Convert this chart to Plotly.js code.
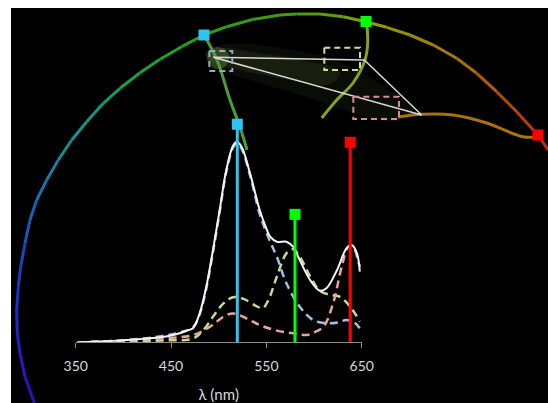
<!DOCTYPE html>
<html>
<head>
<meta charset="utf-8">
<script src="https://cdn.plot.ly/plotly-3.0.1.min.js"></script>
<style>html,body{margin:0;padding:0;background:#fff;}#chart{width:548px;height:403px;}</style>
</head>
<body>
<div id="chart"></div>
<script>
// ---- Spectrum (wavelength in nm, normalised intensity) ----
const whiteWl = [352, 370, 390, 403, 420, 438, 450, 459, 467, 473, 480, 487, 494, 501, 508, 515, 519, 524, 533, 543, 549, 554, 561, 571, 578, 585, 596, 606, 613, 624, 634, 639.5, 645, 648];
const whiteVal = [0.0, 0.005, 0.008, 0.012, 0.018, 0.026, 0.035, 0.046, 0.06, 0.071, 0.145, 0.278, 0.46, 0.66, 0.86, 0.98, 1.0, 0.975, 0.84, 0.66, 0.58, 0.527, 0.502, 0.502, 0.477, 0.41, 0.31, 0.258, 0.27, 0.36, 0.469, 0.486, 0.444, 0.353];
const blueWl = [352, 403, 438, 459, 473, 480, 487, 494, 501, 508, 515, 519, 524, 533, 543, 549, 556, 561, 571, 585, 599, 613, 625, 634, 642, 648];
const blueVal = [0.0, 0.012, 0.03, 0.05, 0.075, 0.14, 0.27, 0.45, 0.65, 0.85, 0.97, 0.99, 0.965, 0.83, 0.64, 0.56, 0.48, 0.427, 0.295, 0.178, 0.112, 0.096, 0.1, 0.112, 0.1, 0.071];
const greenWl = [352, 440, 473, 484, 494, 505, 515, 526, 540, 546, 552, 561, 571, 578, 585, 596, 606, 617, 627, 638, 648];
const greenVal = [0.0, 0.01, 0.02, 0.062, 0.128, 0.195, 0.225, 0.217, 0.18, 0.17, 0.21, 0.328, 0.444, 0.464, 0.427, 0.328, 0.258, 0.237, 0.228, 0.178, 0.104];
const redWl = [352, 438, 473, 491, 505, 515, 529, 543, 561, 578, 592, 600, 610, 620, 629, 636, 641, 646, 648];
const redVal = [0.0, 0.02, 0.037, 0.079, 0.128, 0.145, 0.12, 0.087, 0.059, 0.046, 0.037, 0.05, 0.079, 0.195, 0.377, 0.477, 0.477, 0.41, 0.377];

// emission lines: wavelength and height
const lineWl = [519.5, 580, 638];
const lineTop = [1.087, 0.638, 0.997];
const lineColors = ['#2ec5f3', '#00ff00', '#ff0000'];

const xTicks = [350, 450, 550, 650];

// ---- Chromaticity-style diagram (picture coordinates) ----
const arcX = [34.5, 33.3, 25, 20, 17.3, 16.7, 18.3, 20.7, 25, 30, 36.7, 46.7, 58.3, 71.7, 86.7, 103.3, 120, 140, 160, 181.7, 204, 226.7, 253.3, 280, 296.7, 320, 343.3, 365.7, 386.7, 410, 433.3, 456.7, 476.7, 496.7, 516.7, 533.3, 538.3, 548];
const arcY = [403, 400, 376.7, 353.3, 333.3, 310, 286.7, 266.7, 243.3, 220, 200, 180, 160, 140, 121.7, 103.3, 88.3, 72.7, 59.3, 46.7, 35, 26.7, 19.3, 15, 14, 14, 16.7, 21.7, 27.3, 35, 45, 58.3, 73.3, 91.7, 111.7, 130, 135, 150];
const arcColors = ['#2d12bc', '#2c14bc', '#2a18c0', '#2420c4', '#1f28c6', '#1c30c6', '#1b3ac2', '#1b46bc', '#1a56b6', '#1a62b0', '#1a6eaa', '#1a7ca0', '#188a96', '#16928a', '#149678', '#169a62', '#1a9c4c', '#1e9e38', '#24a026', '#2a9e18', '#309c12', '#369a10', '#3e9a10', '#489a10', '#529a10', '#649c10', '#789e10', '#889c10', '#928f10', '#9c8410', '#a47810', '#aa6a10', '#ae5a10', '#b24a10', '#b63c10', '#ba3010', '#bc2c10', '#c02010'];

const innerGreenX = [204, 217, 230, 240, 247];
const innerGreenY = [35, 60, 100, 127, 150];
const innerYellowX = [366.7, 367.7, 365, 353, 336.7, 321.7];
const innerYellowY = [23, 43, 60, 83, 100, 118];
const innerOrangeX = [398, 421.7, 453, 486.7, 523, 538];
const innerOrangeY = [117, 114.3, 115, 123, 136.7, 136.7];

const triX = [213.3, 290, 364.3, 421.7, 213.3];
const triY = [57.3, 59, 60, 115, 57.3];

const glowX = [205, 228, 280, 340, 385, 412, 395, 350, 300, 250, 215, 205];
const glowY = [52, 44, 48, 62, 88, 112, 122, 112, 95, 80, 68, 52];
const glowCoreX = [206, 222, 250, 300, 340, 330, 280, 240, 215, 206];
const glowCoreY = [54, 48, 52, 60, 72, 84, 78, 70, 64, 54];
const glowSpotX = [218];
const glowSpotY = [58];

const boxes = [
  {x: [209.3, 232.3], y: [51, 71], color: '#8fa9c9'},
  {x: [324.3, 360], y: [47.7, 70], color: '#cfdca2'},
  {x: [353.3, 399], y: [96.7, 119], color: '#d48e8e'}
];

const cornerX = [204, 366, 538];
const cornerY = [35, 21.5, 135];

const traces = [];
// glow
traces.push({x: glowX, y: glowY, xaxis: 'x', yaxis: 'y', mode: 'lines', fill: 'toself', line: {width: 0, shape: 'spline'}, fillcolor: 'rgba(100,125,55,0.10)', hoverinfo: 'skip'});
traces.push({x: glowCoreX, y: glowCoreY, xaxis: 'x', yaxis: 'y', mode: 'lines', fill: 'toself', line: {width: 0, shape: 'spline'}, fillcolor: 'rgba(130,160,75,0.12)', hoverinfo: 'skip'});
traces.push({x: glowSpotX, y: glowSpotY, xaxis: 'x', yaxis: 'y', mode: 'markers', marker: {size: 22, color: 'rgba(150,200,90,0.25)', line: {width: 0}}, hoverinfo: 'skip'});
// arc segments
for (let i = 0; i < arcX.length - 1; i++) {
  traces.push({x: [arcX[i], arcX[i + 1]], y: [arcY[i], arcY[i + 1]], xaxis: 'x', yaxis: 'y', mode: 'lines', line: {color: arcColors[i], width: 3}, hoverinfo: 'skip'});
}
traces.push({x: innerGreenX, y: innerGreenY, xaxis: 'x', yaxis: 'y', mode: 'lines', line: {color: '#4f9a3e', width: 3, shape: 'spline'}});
traces.push({x: innerYellowX, y: innerYellowY, xaxis: 'x', yaxis: 'y', mode: 'lines', line: {color: '#86a222', width: 3, shape: 'spline'}});
traces.push({x: innerOrangeX, y: innerOrangeY, xaxis: 'x', yaxis: 'y', mode: 'lines', line: {color: '#a8720e', width: 3, shape: 'spline'}});
traces.push({x: triX, y: triY, xaxis: 'x', yaxis: 'y', mode: 'lines', line: {color: '#d8d8d8', width: 1.5}});
boxes.forEach(b => {
  traces.push({x: [b.x[0], b.x[1], b.x[1], b.x[0], b.x[0]], y: [b.y[0], b.y[0], b.y[1], b.y[1], b.y[0]], xaxis: 'x', yaxis: 'y', mode: 'lines', line: {color: b.color, width: 2, dash: '6px,4px'}});
});
traces.push({x: cornerX, y: cornerY, xaxis: 'x', yaxis: 'y', mode: 'markers', marker: {symbol: 'square', size: 11, color: lineColors}});

// spectrum
traces.push({x: blueWl, y: blueVal, xaxis: 'x2', yaxis: 'y2', mode: 'lines', line: {color: '#9ec2e6', width: 2.5, dash: '8px,5px', shape: 'spline'}});
traces.push({x: greenWl, y: greenVal, xaxis: 'x2', yaxis: 'y2', mode: 'lines', line: {color: '#c6da98', width: 2.5, dash: '8px,5px', shape: 'spline'}});
traces.push({x: redWl, y: redVal, xaxis: 'x2', yaxis: 'y2', mode: 'lines', line: {color: '#eba39c', width: 2.5, dash: '8px,5px', shape: 'spline'}});
traces.push({x: whiteWl, y: whiteVal, xaxis: 'x2', yaxis: 'y2', mode: 'lines', line: {color: '#f4f4f4', width: 2, shape: 'spline'}});
for (let i = 0; i < lineWl.length; i++) {
  traces.push({x: [lineWl[i], lineWl[i]], y: [0, lineTop[i]], xaxis: 'x2', yaxis: 'y2', mode: 'lines', line: {color: lineColors[i], width: 3}, cliponaxis: false});
  traces.push({x: [lineWl[i]], y: [lineTop[i]], xaxis: 'x2', yaxis: 'y2', mode: 'markers', marker: {symbol: 'square', size: 11, color: lineColors[i]}, cliponaxis: false});
}

const layout = {
  width: 548, height: 403,
  margin: {l: 11, r: 0, t: 8, b: 0},
  paper_bgcolor: '#ffffff',
  plot_bgcolor: 'rgba(0,0,0,0)',
  showlegend: false,
  shapes: [{type: 'rect', xref: 'paper', yref: 'paper', x0: 0, x1: 1, y0: 0, y1: 1, fillcolor: '#000000', line: {width: 0}, layer: 'below'}],
  xaxis: {range: [11, 548], domain: [0, 1], visible: false, fixedrange: true},
  yaxis: {range: [403, 8], domain: [0, 1], visible: false, fixedrange: true},
  xaxis2: {
    anchor: 'y2', domain: [0.1205, 0.6531], range: [350, 650],
    tickvals: xTicks, ticktext: xTicks.map(String),
    showgrid: false, zeroline: false,
    showline: true, linecolor: '#8c8c8c', linewidth: 1,
    ticks: 'outside', ticklen: 5, tickcolor: '#8c8c8c',
    ticklabelstandoff: 6,
    tickfont: {family: 'Lato, sans-serif', size: 14, color: '#d9d9d9'},
    title: {text: 'λ (nm)', font: {family: 'Lato, sans-serif', size: 15, color: '#d9d9d9'}, standoff: 16}
  },
  yaxis2: {anchor: 'x2', domain: [0.1532, 0.7632], range: [0, 1.2], visible: false, showgrid: false, zeroline: false}
};

Plotly.newPlot('chart', traces, layout, {staticPlot: true, displayModeBar: false});
</script>
</body>
</html>
